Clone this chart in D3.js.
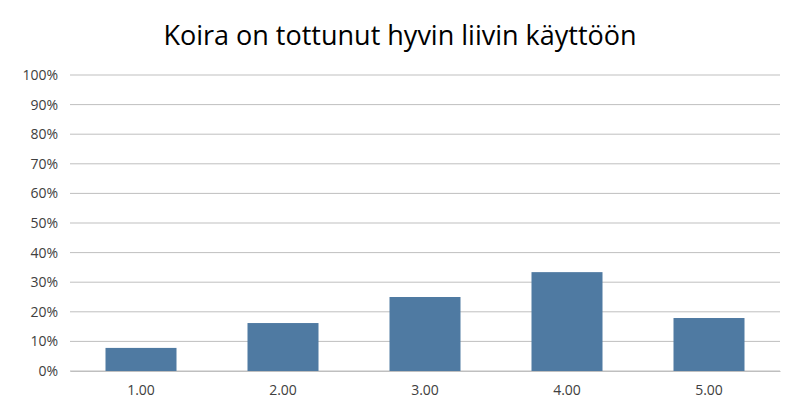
<!DOCTYPE html>
<html><head><meta charset="utf-8">
<script src="https://cdn.jsdelivr.net/npm/d3@7"></script>
<style>body{margin:0;background:#fff;font-family:"Open Sans",sans-serif;}</style>
</head><body><div id="chart"></div>
<script>
var categories=["1.00","2.00","3.00","4.00","5.00"];
var values=[0.078,0.162,0.25,0.334,0.179];
var yTicks=[0,0.1,0.2,0.3,0.4,0.5,0.6,0.7,0.8,0.9,1];

var W=800,H=416,margin={top:75,right:20,bottom:45,left:70},
w=W-margin.left-margin.right,h=H-margin.top-margin.bottom;

var svg=d3.select("#chart").append("svg").attr("width",W).attr("height",H);
svg.append("text").attr("x",400).attr("y",45).attr("text-anchor","middle")
.style("font-size","27px").attr("fill","#000").text("Koira on tottunut hyvin liivin käyttöön");

var g=svg.append("g").attr("transform",`translate(${margin.left},${margin.top})`);
var x=d3.scaleBand().domain(categories).range([0,w]).paddingInner(0.5).paddingOuter(0.25);
var y=d3.scaleLinear().domain([0,1]).range([h,0]);

g.selectAll(".grid").data(yTicks).enter().append("line")
.attr("x1",0).attr("x2",w).attr("y1",d=>y(d)).attr("y2",d=>y(d))
.attr("stroke","#bfbfbf").attr("stroke-width",1);

var ya=g.append("g").call(d3.axisLeft(y).tickValues(yTicks).tickFormat(d3.format(".0%")).tickSize(0).tickPadding(12));
ya.select(".domain").remove();
ya.selectAll("text").style("font-size","14px").style("font-family","'Open Sans'").attr("fill","#404040");

g.selectAll("rect").data(values).enter().append("rect")
.attr("x",(d,i)=>x(categories[i])).attr("width",x.bandwidth())
.attr("y",d=>y(d)).attr("height",d=>h-y(d)).attr("fill","#4f7aa2");

var xa=g.append("g").attr("transform",`translate(0,${h})`).call(d3.axisBottom(x).tickSize(0).tickPadding(14));
xa.select(".domain").attr("stroke","#bfbfbf");
xa.selectAll("text").style("font-size","14px").style("font-family","'Open Sans'").attr("fill","#404040");
</script></body></html>
